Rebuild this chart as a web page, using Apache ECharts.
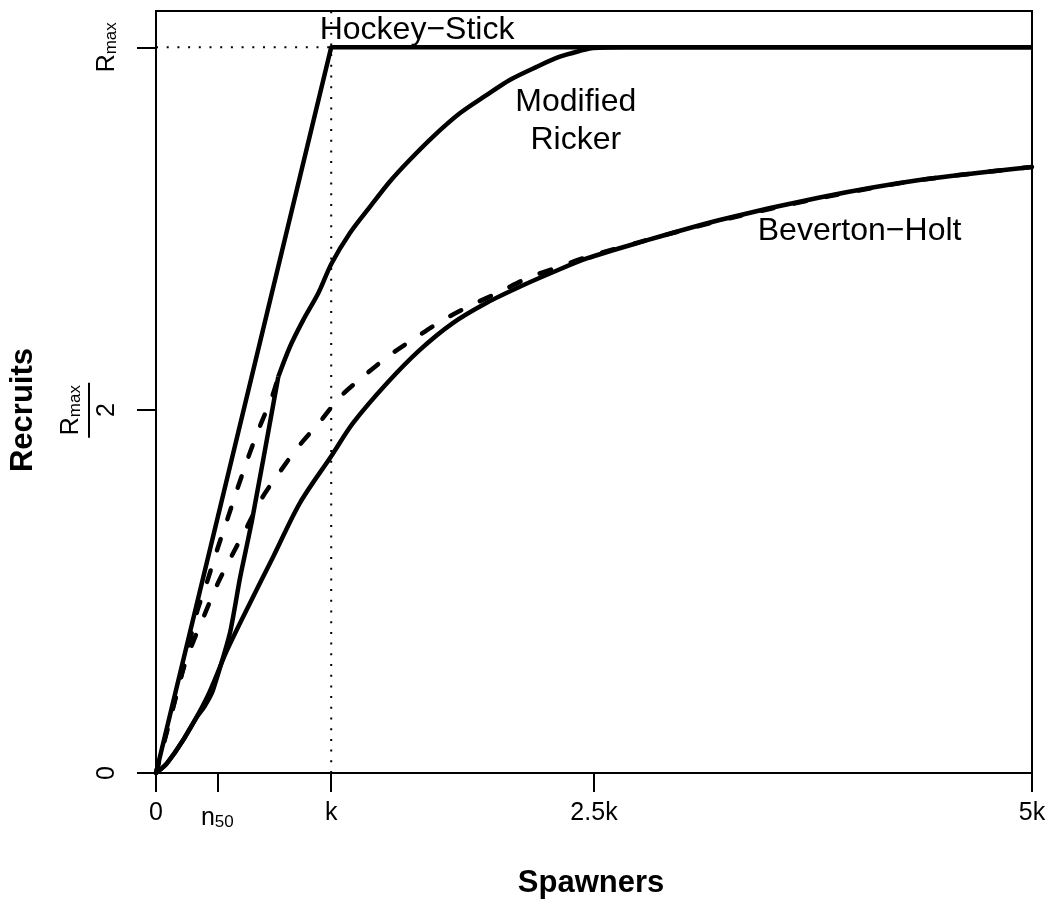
<!DOCTYPE html>
<html>
<head>
<meta charset="utf-8">
<title>Stock-recruitment curves</title>
<script src="https://cdn.jsdelivr.net/npm/echarts@6/dist/echarts.min.js"></script>
<style>
html, body { margin: 0; padding: 0; background: #fff; }
#chart { width: 1048px; height: 903px; }
</style>
</head>
<body>
<div id="chart"></div>
<script>
// units: spawners in k, recruits in Rmax
var K = 1, RMAX = 1, X_MAX = 5, Y_MAX = 1.05;

var xTicks = [0, 0.35, 1, 2.5, 5];
var xTickLabels = ['0', '{n|n}{s|50}', 'k', '2.5k', '5k'];
var yTicks = [0, 0.5, 1];
var yTickLabels = ['0', '{r|R}{s|max}\n{bar|}\n{d|2}', '{r|R}{s|max}'];

// hockey-stick
var hockeyX = [0, 1, 5];
var hockeyY = [0, 1, 1];

// modified Ricker (solid, with depensation); kink where the straight part meets the cap curve
var mRickerX = [0, 0.061, 0.154, 0.230, 0.280, 0.325, 0.422, 0.479, 0.548, 0.698, 0.764, 0.840, 0.926, 1.002, 1.107, 1.221, 1.335, 1.449, 1.582, 1.734, 1.886, 2.019, 2.172, 2.305, 2.419, 2.495, 2.685, 5];
var mRickerY = [0, 0.013, 0.045, 0.076, 0.093, 0.114, 0.193, 0.268, 0.348, 0.546, 0.587, 0.624, 0.661, 0.702, 0.744, 0.780, 0.815, 0.845, 0.877, 0.909, 0.934, 0.955, 0.973, 0.987, 0.995, 0.999, 1.0, 1.0];
var mRickerKink = 9;

// Ricker without depensation (dashed, up to the kink)
var rickerX = [0, 0.108, 0.154, 0.234, 0.291, 0.348, 0.405, 0.462, 0.525, 0.588, 0.662, 0.698];
var rickerY = [0, 0.100, 0.142, 0.222, 0.263, 0.307, 0.348, 0.390, 0.434, 0.475, 0.518, 0.546];

// Beverton-Holt (solid, with depensation)
var bhX = [0, 0.061, 0.154, 0.291, 0.405, 0.536, 0.667, 0.821, 1.004, 1.124, 1.318, 1.506, 1.694, 1.888, 2.076, 2.265, 2.459, 2.744, 3.217, 3.788, 4.358, 5];
var bhY = [0, 0.013, 0.045, 0.104, 0.169, 0.234, 0.297, 0.372, 0.438, 0.482, 0.537, 0.583, 0.620, 0.648, 0.670, 0.690, 0.709, 0.730, 0.762, 0.793, 0.817, 0.835];

// Beverton-Holt without depensation (dashed)
var bh0X = [0, 0.108, 0.154, 0.211, 0.280, 0.354, 0.434, 0.519, 0.605, 0.707, 0.810, 0.936, 1.050, 1.181, 1.335, 1.489, 1.637, 1.803, 1.962, 2.122, 2.293, 2.459, 2.647, 3.217, 3.788, 4.358, 5];
var bh0Y = [0, 0.100, 0.142, 0.180, 0.220, 0.262, 0.300, 0.339, 0.379, 0.415, 0.449, 0.484, 0.518, 0.546, 0.576, 0.601, 0.624, 0.645, 0.663, 0.682, 0.697, 0.711, 0.724, 0.761, 0.792, 0.817, 0.835];

var curveLabels = ['Hockey\u2212Stick', 'Modified\nRicker', 'Beverton\u2212Holt'];
var curveLabelX = [1.49, 2.396, 4.016];
var curveLabelY = [1.024, 0.898, 0.747];

var FONT = '"Liberation Sans", Arial, Helvetica, sans-serif';
var LW = 4.5;

function pairs(xs, ys) {
    return xs.map(function (x, i) { return [x, ys[i]]; });
}

function curve(name, data, dashed, smooth) {
    return {
        name: name,
        type: 'line',
        data: data,
        showSymbol: false,
        symbol: 'none',
        smooth: smooth || false,
        lineStyle: {
            color: '#000',
            width: LW,
            type: dashed ? [12, 21] : 'solid',
            cap: dashed ? 'round' : 'butt',
            join: 'round'
        },
        z: dashed ? 4 : 3
    };
}

function dotted(data) {
    return {
        type: 'line',
        data: data,
        symbol: 'none',
        lineStyle: { color: '#000', width: 2, type: [2, 8.7] },
        z: 2
    };
}

var mRicker = pairs(mRickerX, mRickerY);

var chart = echarts.init(document.getElementById('chart'), null, { renderer: 'canvas' });

chart.setOption({
    animation: false,
    backgroundColor: '#fff',
    textStyle: { fontFamily: FONT },
    grid: {
        left: 156, right: 16, top: 11, bottom: 130,
        show: true, borderColor: '#000', borderWidth: 2,
        containLabel: false,
        outerBoundsMode: 'none'
    },
    xAxis: {
        type: 'value',
        min: 0, max: X_MAX,
        axisLine: { show: true, onZero: false, lineStyle: { color: '#000', width: 2 } },
        axisTick: { show: true, length: 19, customValues: xTicks, lineStyle: { color: '#000', width: 2 } },
        axisLabel: {
            customValues: xTicks,
            margin: 28,
            color: '#000',
            fontSize: 25,
            fontFamily: FONT,
            formatter: function (v) {
                var i = xTicks.indexOf(v);
                return i >= 0 ? xTickLabels[i] : '';
            },
            rich: {
                n: { fontSize: 25, fontFamily: FONT, color: '#000', lineHeight: 30, verticalAlign: 'bottom' },
                s: { fontSize: 17, fontFamily: FONT, color: '#000', lineHeight: 17, verticalAlign: 'bottom' }
            }
        },
        splitLine: { show: false },
        name: 'Spawners',
        nameLocation: 'middle',
        nameGap: 95,
        nameTextStyle: { color: '#000', fontSize: 31, fontWeight: 'bold', fontFamily: FONT, padding: [0, 6, 0, 0] }
    },
    yAxis: {
        type: 'value',
        min: 0, max: Y_MAX,
        axisLine: { show: true, onZero: false, lineStyle: { color: '#000', width: 2 } },
        axisTick: { show: true, length: 19, customValues: yTicks, lineStyle: { color: '#000', width: 2 } },
        axisLabel: {
            customValues: yTicks,
            rotate: 90,
            margin: 36,
            color: '#000',
            fontSize: 25,
            fontFamily: FONT,
            formatter: function (v) {
                var i = yTicks.indexOf(v);
                return i >= 0 ? yTickLabels[i] : '';
            },
            rich: {
                r: { fontSize: 25, fontFamily: FONT, color: '#000', lineHeight: 26, verticalAlign: 'bottom' },
                s: { fontSize: 17, fontFamily: FONT, color: '#000', lineHeight: 17, verticalAlign: 'bottom' },
                bar: { width: 55, height: 2, lineHeight: 10, backgroundColor: '#000' },
                d: { fontSize: 25, fontFamily: FONT, color: '#000', lineHeight: 26 }
            }
        },
        splitLine: { show: false },
        name: 'Recruits',
        nameLocation: 'middle',
        nameRotate: 90,
        nameGap: 117,
        nameTextStyle: { color: '#000', fontSize: 31, fontWeight: 'bold', fontFamily: FONT, padding: [0, 36, 0, 0] }
    },
    series: [
        dotted([[K, 0], [K, Y_MAX]]),
        dotted([[0, RMAX], [K, RMAX]]),
        curve('Hockey-Stick', pairs(hockeyX, hockeyY), false),
        curve('Modified Ricker (low)', mRicker.slice(0, mRickerKink + 1), false, 0.2),
        curve('Modified Ricker', mRicker.slice(mRickerKink), false, 0.3),
        curve('Beverton-Holt', pairs(bhX, bhY), false, 0.3),
        curve('Ricker', pairs(rickerX, rickerY), true, 0.2),
        curve('Beverton-Holt (no depensation)', pairs(bh0X, bh0Y), true, 0.3),
        {
            type: 'scatter',
            symbolSize: 1,
            itemStyle: { color: 'rgba(0,0,0,0)' },
            data: curveLabels.map(function (t, i) {
                return { name: t, value: [curveLabelX[i], curveLabelY[i]] };
            }),
            label: {
                show: true,
                position: ['50%', '50%'],
                formatter: '{b}',
                color: '#000',
                opacity: 1,
                textBorderWidth: 0,
                fontSize: 32,
                lineHeight: 38,
                align: 'center',
                verticalAlign: 'middle',
                fontFamily: FONT
            },
            emphasis: { disabled: true },
            z: 5
        }
    ]
});
</script>
</body>
</html>
